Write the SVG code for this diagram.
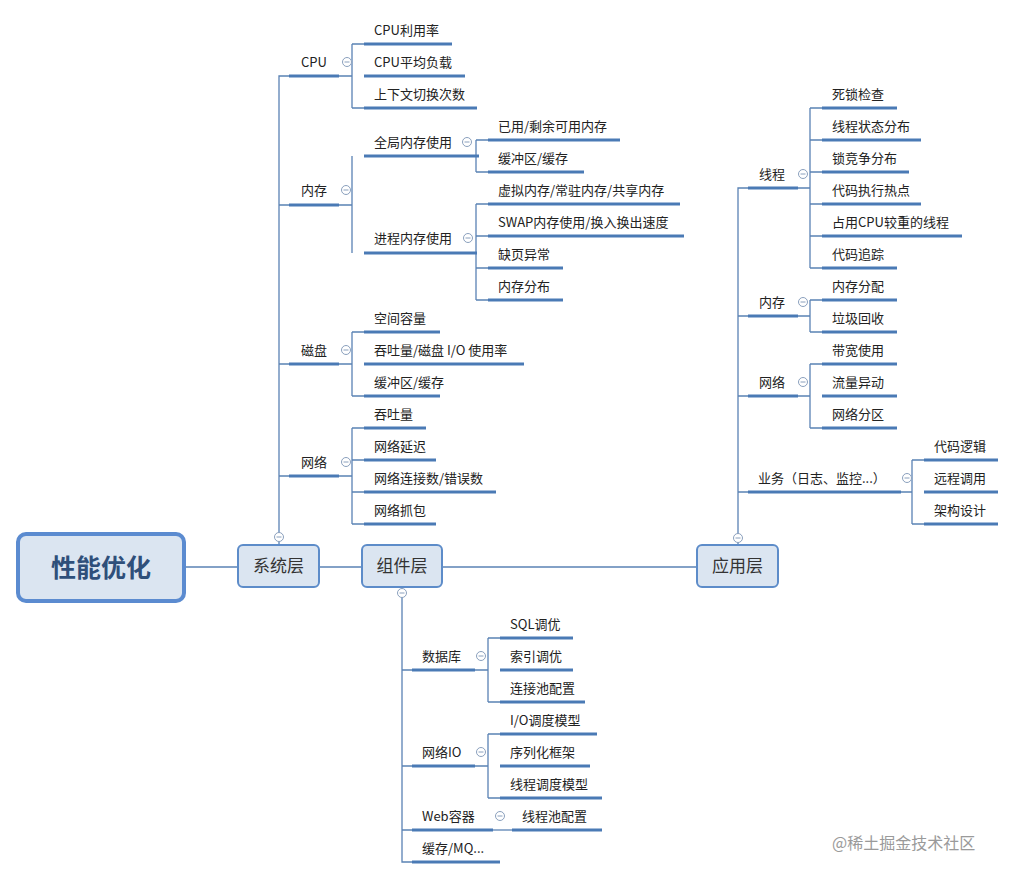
<svg xmlns="http://www.w3.org/2000/svg" width="1016" height="878" viewBox="0 0 1016 878">
<style>
.c{stroke:#5a82b4;stroke-width:1.3;fill:none}
.u{stroke:#4a7ab5;stroke-width:3}
.t{font-family:"Microsoft YaHei","Noto Sans CJK SC",sans-serif;font-size:13px;fill:#222}
.m{text-anchor:middle}
.box{fill:#dbe5f1;stroke:#5d8cc9;stroke-width:2}
.bt{font-family:"Noto Sans CJK SC",sans-serif;font-size:17px;fill:#333;text-anchor:middle}
.k{fill:#fff;stroke:#8aa0bd;stroke-width:1}
.kl{stroke:#8aa0bd;stroke-width:1}
</style>
<defs>
<g id="col"><circle class="k" r="4.5"/><line class="kl" x1="-2.5" x2="2.5"/></g>
</defs>
<rect width="1016" height="878" fill="#fff"/>
<g id="connectors">
<line class="c" x1="185" y1="567" x2="697" y2="567"/>
<!-- system -->
<path class="c" d="M279 545V76H289M279 205H289M279 364H289M279 476H289"/>
<path class="c" d="M339 76H352M352 44V108M352 44H364M352 108H364"/>
<path class="c" d="M339 205H352M352 156V253"/>
<path class="c" d="M479 156H476M476 140V172M476 140H488M476 172H488"/>
<path class="c" d="M477 253H476M476 204V300M476 204H488M476 236H488M476 268H488M476 300H488"/>
<path class="c" d="M339 364H352M352 332V396M352 332H364M352 396H364"/>
<path class="c" d="M339 476H352M352 428V524M352 428H364M352 460H364M352 492H364M352 524H364"/>
<!-- component -->
<path class="c" d="M402 587V862H412M402 670H412M402 766H412M402 830H412"/>
<path class="c" d="M475 670H488M488 638V702M488 638H500M488 702H500"/>
<path class="c" d="M475 766H488M488 734V798M488 734H500M488 798H500"/>
<path class="c" d="M493 830H512"/>
<!-- application -->
<path class="c" d="M738 545V188H748M738 316H748M738 396H748M738 492H748"/>
<path class="c" d="M798 188H810M810 108V268M810 108H822M810 140H822M810 172H822M810 204H822M810 236H822M810 268H822"/>
<path class="c" d="M798 316H810M810 300V332M810 300H822M810 332H822"/>
<path class="c" d="M798 396H810M810 364V428M810 364H822M810 428H822"/>
<path class="c" d="M901 492H912M912 460V524M912 460H924M912 524H924"/>
</g>
<g id="root"><rect x="18" y="534" width="166" height="67" rx="8" fill="#dbe5f1" stroke="#5b8bd0" stroke-width="4"/><text x="101" y="577" class="bt" style="font-size:25px;font-weight:bold;fill:#2f4f7a">性能优化</text></g>
<g id="sys"><rect class="box" x="238" y="545" width="81" height="42" rx="5"/><text class="bt" x="278.5" y="572">系统层</text><use href="#col" x="279" y="537"/></g>
<g id="comp"><rect class="box" x="362" y="545" width="80" height="42" rx="5"/><text class="bt" x="402" y="572">组件层</text><use href="#col" x="402" y="593"/></g>
<g id="app"><rect class="box" x="697" y="545" width="81" height="42" rx="5"/><text class="bt" x="737.5" y="572">应用层</text><use href="#col" x="738" y="538"/></g>

<g id="cpu"><line class="u" x1="289" y1="76" x2="339" y2="76"/><text class="t m" x="314" y="67">CPU</text><use href="#col" x="347" y="62"/></g>
<g id="cpu1"><line class="u" x1="364" y1="44" x2="452" y2="44"/><text class="t" x="374" y="35">CPU利用率</text></g>
<g id="cpu2"><line class="u" x1="364" y1="76" x2="465" y2="76"/><text class="t" x="374" y="67">CPU平均负载</text></g>
<g id="cpu3"><line class="u" x1="364" y1="108" x2="477" y2="108"/><text class="t" x="374" y="99">上下文切换次数</text></g>

<g id="mem"><line class="u" x1="289" y1="205" x2="339" y2="205"/><text class="t m" x="314" y="195">内存</text><use href="#col" x="346" y="190"/></g>
<g id="gmem"><line class="u" x1="364" y1="156" x2="479" y2="156"/><text class="t" x="374" y="147">全局内存使用</text><use href="#col" x="467" y="142"/></g>
<g id="gm1"><line class="u" x1="488" y1="140" x2="620" y2="140"/><text class="t" x="498" y="131">已用/剩余可用内存</text></g>
<g id="gm2"><line class="u" x1="488" y1="172" x2="584" y2="172"/><text class="t" x="498" y="163">缓冲区/缓存</text></g>
<g id="pmem"><line class="u" x1="364" y1="253" x2="477" y2="253"/><text class="t" x="374" y="243">进程内存使用</text><use href="#col" x="468" y="238"/></g>
<g id="pm1"><line class="u" x1="488" y1="204" x2="680" y2="204"/><text class="t" x="498" y="195">虚拟内存/常驻内存/共享内存</text></g>
<g id="pm2"><line class="u" x1="488" y1="236" x2="684" y2="236"/><text class="t" x="498" y="227">SWAP内存使用/换入换出速度</text></g>
<g id="pm3"><line class="u" x1="488" y1="268" x2="563" y2="268"/><text class="t" x="498" y="259">缺页异常</text></g>
<g id="pm4"><line class="u" x1="488" y1="300" x2="563" y2="300"/><text class="t" x="498" y="291">内存分布</text></g>

<g id="disk"><line class="u" x1="289" y1="364" x2="339" y2="364"/><text class="t m" x="314" y="355">磁盘</text><use href="#col" x="346" y="350"/></g>
<g id="d1"><line class="u" x1="364" y1="332" x2="440" y2="332"/><text class="t" x="374" y="323">空间容量</text></g>
<g id="d2"><line class="u" x1="364" y1="364" x2="524" y2="364"/><text class="t" x="374" y="355">吞吐量/磁盘 I/O 使用率</text></g>
<g id="d3"><line class="u" x1="364" y1="396" x2="440" y2="396"/><text class="t" x="374" y="387">缓冲区/缓存</text></g>

<g id="net"><line class="u" x1="289" y1="476" x2="339" y2="476"/><text class="t m" x="314" y="467">网络</text><use href="#col" x="346" y="462"/></g>
<g id="n1"><line class="u" x1="364" y1="428" x2="426" y2="428"/><text class="t" x="374" y="419">吞吐量</text></g>
<g id="n2"><line class="u" x1="364" y1="460" x2="436" y2="460"/><text class="t" x="374" y="451">网络延迟</text></g>
<g id="n3"><line class="u" x1="364" y1="492" x2="496" y2="492"/><text class="t" x="374" y="483">网络连接数/错误数</text></g>
<g id="n4"><line class="u" x1="364" y1="524" x2="436" y2="524"/><text class="t" x="374" y="515">网络抓包</text></g>

<g id="db"><line class="u" x1="412" y1="670" x2="475" y2="670"/><text class="t" x="422" y="661">数据库</text><use href="#col" x="481" y="656"/></g>
<g id="db1"><line class="u" x1="500" y1="638" x2="573" y2="638"/><text class="t" x="510" y="629">SQL调优</text></g>
<g id="db2"><line class="u" x1="500" y1="670" x2="573" y2="670"/><text class="t" x="510" y="661">索引调优</text></g>
<g id="db3"><line class="u" x1="500" y1="702" x2="585" y2="702"/><text class="t" x="510" y="693">连接池配置</text></g>
<g id="nio"><line class="u" x1="412" y1="766" x2="475" y2="766"/><text class="t" x="422" y="757">网络IO</text><use href="#col" x="481" y="752"/></g>
<g id="nio1"><line class="u" x1="500" y1="734" x2="597" y2="734"/><text class="t" x="510" y="725">I/O调度模型</text></g>
<g id="nio2"><line class="u" x1="500" y1="766" x2="590" y2="766"/><text class="t" x="510" y="757">序列化框架</text></g>
<g id="nio3"><line class="u" x1="500" y1="798" x2="602" y2="798"/><text class="t" x="510" y="789">线程调度模型</text></g>
<g id="web"><line class="u" x1="412" y1="830" x2="493" y2="830"/><text class="t" x="422" y="821">Web容器</text><use href="#col" x="500" y="816"/></g>
<g id="web1"><line class="u" x1="512" y1="830" x2="602" y2="830"/><text class="t" x="522" y="821">线程池配置</text></g>
<g id="mq"><line class="u" x1="412" y1="862" x2="500" y2="862"/><text class="t" x="422" y="853">缓存/MQ...</text></g>

<g id="thr"><line class="u" x1="748" y1="188" x2="798" y2="188"/><text class="t m" x="772" y="179">线程</text><use href="#col" x="803" y="174"/></g>
<g id="t1"><line class="u" x1="822" y1="108" x2="897" y2="108"/><text class="t" x="832" y="99">死锁检查</text></g>
<g id="t2"><line class="u" x1="822" y1="140" x2="921" y2="140"/><text class="t" x="832" y="131">线程状态分布</text></g>
<g id="t3"><line class="u" x1="822" y1="172" x2="909" y2="172"/><text class="t" x="832" y="163">锁竞争分布</text></g>
<g id="t4"><line class="u" x1="822" y1="204" x2="921" y2="204"/><text class="t" x="832" y="195">代码执行热点</text></g>
<g id="t5"><line class="u" x1="822" y1="236" x2="962" y2="236"/><text class="t" x="832" y="227">占用CPU较重的线程</text></g>
<g id="t6"><line class="u" x1="822" y1="268" x2="897" y2="268"/><text class="t" x="832" y="259">代码追踪</text></g>
<g id="amem"><line class="u" x1="748" y1="316" x2="798" y2="316"/><text class="t m" x="772" y="307">内存</text><use href="#col" x="803" y="302"/></g>
<g id="am1"><line class="u" x1="822" y1="300" x2="897" y2="300"/><text class="t" x="832" y="291">内存分配</text></g>
<g id="am2"><line class="u" x1="822" y1="332" x2="897" y2="332"/><text class="t" x="832" y="323">垃圾回收</text></g>
<g id="anet"><line class="u" x1="748" y1="396" x2="798" y2="396"/><text class="t m" x="772" y="387">网络</text><use href="#col" x="803" y="382"/></g>
<g id="an1"><line class="u" x1="822" y1="364" x2="897" y2="364"/><text class="t" x="832" y="355">带宽使用</text></g>
<g id="an2"><line class="u" x1="822" y1="396" x2="897" y2="396"/><text class="t" x="832" y="387">流量异动</text></g>
<g id="an3"><line class="u" x1="822" y1="428" x2="897" y2="428"/><text class="t" x="832" y="419">网络分区</text></g>
<g id="biz"><line class="u" x1="748" y1="492" x2="901" y2="492"/><text class="t" x="758" y="483">业务（日志、监控...）</text><use href="#col" x="907" y="478"/></g>
<g id="b1"><line class="u" x1="924" y1="460" x2="998" y2="460"/><text class="t" x="934" y="451">代码逻辑</text></g>
<g id="b2"><line class="u" x1="924" y1="492" x2="998" y2="492"/><text class="t" x="934" y="483">远程调用</text></g>
<g id="b3"><line class="u" x1="924" y1="524" x2="998" y2="524"/><text class="t" x="934" y="515">架构设计</text></g>

<text x="832" y="849" style="font-family:'Noto Sans CJK SC',sans-serif;font-size:16px;fill:#9a9a9a">@稀土掘金技术社区</text>
</svg>
